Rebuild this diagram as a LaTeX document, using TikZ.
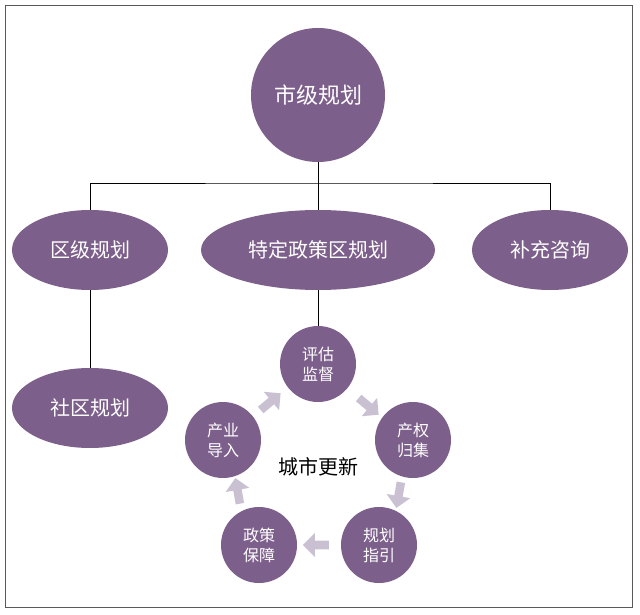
\documentclass[tikz,border=0pt]{standalone}
\usepackage{fontspec}
\setmainfont{Noto Sans CJK SC}
\usetikzlibrary{shapes.geometric,shapes.arrows}
\definecolor{plum}{HTML}{7D5F8B}
\definecolor{lilac}{HTML}{C9C1D2}
\tikzset{
  bigdot/.style={circle,fill=plum,text=white,minimum size=134pt,inner sep=0pt,font=\fontsize{22}{26}\selectfont},
  plan/.style={ellipse,fill=plum,text=white,minimum height=80pt,inner sep=0pt,font=\fontsize{20}{24}\selectfont},
  stage/.style={circle,fill=plum,text=white,minimum size=76pt,inner sep=0pt,align=center,font=\fontsize{16}{20}\selectfont},
  flow/.style={single arrow,fill=lilac,minimum height=26pt,minimum width=24pt,single arrow head extend=4pt,inner sep=2pt}
}
\begin{document}
\begin{tikzpicture}[x=1pt,y=-1pt]
\useasboundingbox (0,0) rectangle (640,615);
\draw[gray!70!black] (5,5) rectangle (632,607);

\node[bigdot] (city) at (318,95) {市级规划};
\node[plan,minimum width=156pt] (dist) at (90,250) {区级规划};
\node[plan,minimum width=234pt] (zone) at (318,250) {特定政策区规划};
\node[plan,minimum width=156pt] (extra) at (550,250) {补充咨询};
\node[plan,minimum width=156pt] (comm) at (90,408) {社区规划};

\coordinate (bus) at (318,183);
\draw (city) -- (bus);
\draw (dist.north) |- (bus) -| (extra.north);
\draw (bus) -- (zone.north);
\draw (dist) -- (comm);

\node[stage] (eval) at (318,364) {评估\\监督};
\node[stage] (prop) at (413,440) {产权\\归集};
\node[stage] (guide) at (379,545) {规划\\指引};
\node[stage] (policy) at (259,545) {政策\\保障};
\node[stage] (ind) at (223,440) {产业\\导入};
\node[font=\fontsize{20}{24}\selectfont] (renew) at (318,467) {城市更新};
\draw (zone) -- (eval);

\node[flow,rotate=-40] (a1) at (367,405) {};
\node[flow,rotate=-100] (a2) at (399,493) {};
\node[flow,rotate=180] (a3) at (318,545) {};
\node[flow,rotate=100] (a4) at (238,493) {};
\node[flow,rotate=40] (a5) at (269,403) {};
\end{tikzpicture}
\end{document}
